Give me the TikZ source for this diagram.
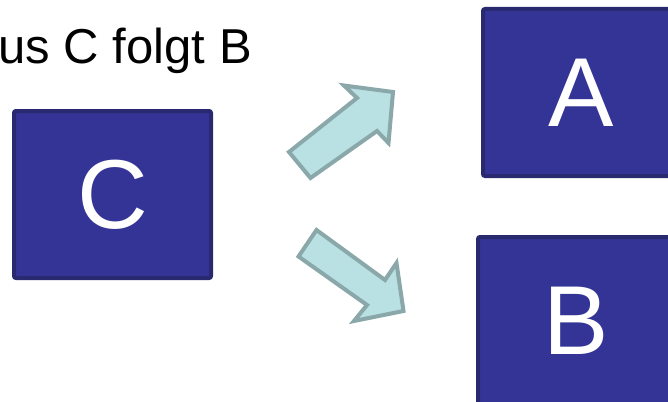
\documentclass[tikz,border=0pt]{standalone}
\usepackage{fontspec}
\setmainfont{Liberation Sans}
\definecolor{boxfill}{HTML}{343496}
\definecolor{boxline}{HTML}{29296F}
\definecolor{arrowfill}{HTML}{B9E0E3}
\definecolor{arrowline}{HTML}{8AA8A9}
\begin{document}
\begin{tikzpicture}[x=1pt,y=-1pt,
  letterbox/.style={draw=boxline, fill=boxfill, line width=4pt, rounded corners=2pt,
    minimum width=197pt, minimum height=167pt, inner sep=0pt, text=white,
    font=\fontsize{98}{98}\selectfont},
  blockarrow/.style={draw=arrowline, fill=arrowfill, line width=4pt, line join=miter},
  heading/.style={font=\fontsize{49}{49}\selectfont, inner sep=0pt}]
\useasboundingbox (0,0) rectangle (668,401);
\clip (0,0) rectangle (668,401);

% heading
\node[heading, anchor=base east] (title) at (252,64) {Aus C folgt B};

% letter boxes
\node[letterbox] (C) at (112.5,194.5) {C};
\node[letterbox] (A) at (581.5,92.5) {A};
\node[letterbox] (B) at (576.5,320.5) {B};

% block arrow towards A
\path[blockarrow] (289,152) -- (310.5,178) -- (377,131) -- (388.5,143)
  -- (393,92) -- (344,85.5) -- (357,98) -- cycle;

% block arrow towards B
\path[blockarrow] (316.5,230) -- (298.5,256.5) -- (367,305) -- (354,321)
  -- (403.5,311) -- (396.5,263) -- (385,280) -- cycle;
\end{tikzpicture}
\end{document}
